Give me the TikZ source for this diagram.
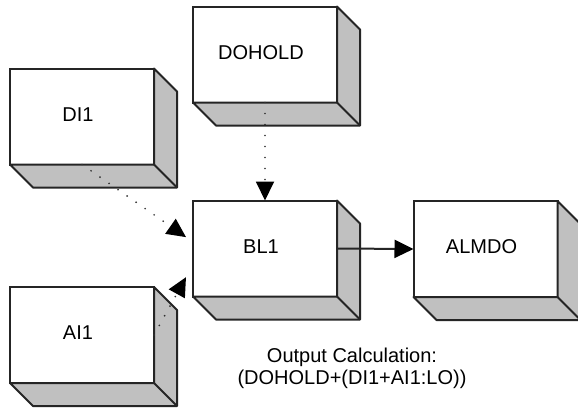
\documentclass[tikz,border=0pt]{standalone}
\usepackage{fontspec}
\setmainfont{Liberation Sans}
\usetikzlibrary{arrows.meta,calc}
\definecolor{edge}{HTML}{252525}
\definecolor{dotc}{HTML}{303030}
\definecolor{shade}{HTML}{C0C0C0}
\tikzset{
  x=1pt, y=-1pt,
  lbl/.style={font=\fontsize{20}{24}\selectfont, inner sep=0pt, xshift=-4pt, yshift=2pt},
  block/.style={draw=edge, line width=2pt, fill=white, minimum width=144pt,
    minimum height=96pt, inner sep=0pt, outer sep=0pt},
  sideface/.style={draw=edge, fill=shade, line width=2pt, line join=round},
  tip/.style={-{Triangle[length=19pt,width=18pt,color=black]}},
  dotline/.style={dotc, line width=1.9pt, line cap=round, dash pattern=on 0pt off 11pt, tip},
  solidline/.style={edge, line width=2pt, tip},
}
% a block: white front face plus shaded right and bottom faces
\newcommand\drawblock[3]{%
  \node[block, label={[lbl]center:#3}] (#1) at (#2) {};
  \filldraw[sideface] (#1.north east) -- ++(23,23) -- ++(0,96) -- ++(-144,0)
    -- (#1.south west) -- (#1.south east) -- cycle;
  \draw[sideface] (#1.south east) -- ++(23,23);
}
\begin{document}
\begin{tikzpicture}
  \clip (0,0) rectangle (578,408);
  \fill[white] (0,0) rectangle (578,408);

  \drawblock{DI1}{82,116.5}{DI1}
  \drawblock{DOHOLD}{265,54.5}{DOHOLD}
  \drawblock{BL1}{265,248.5}{BL1}
  \drawblock{ALMDO}{485.5,249}{ALMDO}
  \drawblock{AI1}{82,335}{AI1}

  \draw[dotline] (DOHOLD.south) -- (BL1.north);
  \draw[dotline, shorten >=8.5pt] (DI1.south) -- ($(BL1.west)+(0,-6.5)$);
  \draw[dotline, shorten >=14.5pt] (AI1.east) -- ($(BL1.west)+(0,16)$);
  \draw[solidline] (BL1.east) -- (ALMDO.west);

  \node[font=\fontsize{20}{22.5}\selectfont, align=center, inner sep=0pt, anchor=north]
    (formula) at (352,347.5) {Output Calculation:\\(DOHOLD+(DI1+AI1:LO))};
\end{tikzpicture}
\end{document}
